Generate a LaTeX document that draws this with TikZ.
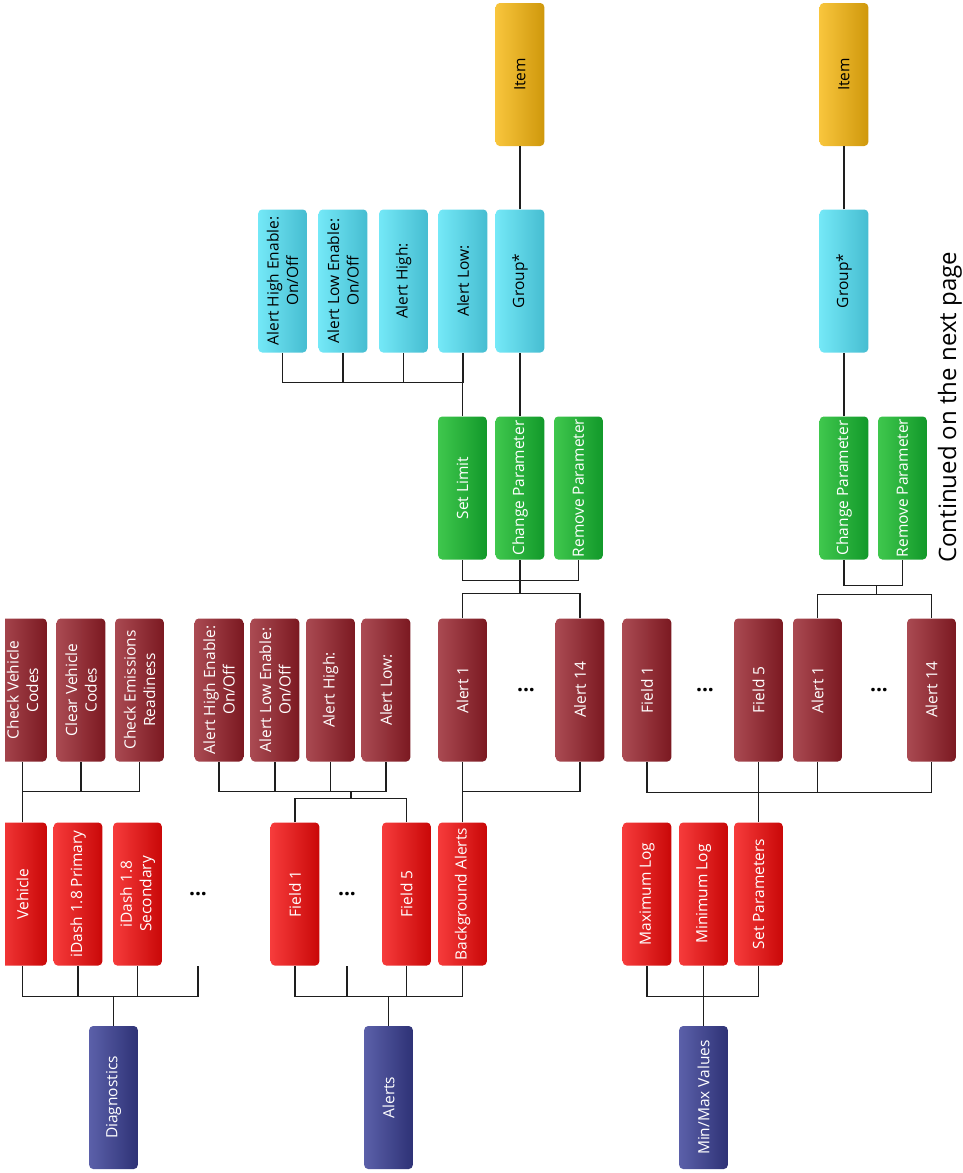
\documentclass[tikz,border=0pt]{standalone}
\usepackage{fontspec}
\setmainfont{Open Sans}
\usepackage{tikz}
\usetikzlibrary{calc}
\usetikzlibrary{shapes}

\definecolor{navylight}{HTML}{5B60A9}
\definecolor{navydark}{HTML}{2E3276}
\definecolor{redlight}{HTML}{F63B3B}
\definecolor{reddark}{HTML}{C90808}
\definecolor{winelight}{HTML}{AA4A52}
\definecolor{winedark}{HTML}{7B1921}
\definecolor{leaflight}{HTML}{3FC74D}
\definecolor{leafdark}{HTML}{12992A}
\definecolor{aqualight}{HTML}{74E8F7}
\definecolor{aquadark}{HTML}{46BDD1}
\definecolor{amberlight}{HTML}{F8C53C}
\definecolor{amberdark}{HTML}{CF980C}
\definecolor{wire}{HTML}{1E1E1E}

\tikzset{
  box/.style = {rectangle, rounded corners=4pt, rotate=90, minimum width=143pt, minimum height=48.6pt, inner sep=1pt, align=center, font=\fontsize{15.5}{19.5}\selectfont},
  navybox/.style = {box, left color=navylight, right color=navydark, text=white},
  redbox/.style = {box, left color=redlight, right color=reddark, text=white},
  winebox/.style = {box, left color=winelight, right color=winedark, text=white},
  leafbox/.style = {box, left color=leaflight, right color=leafdark, text=white},
  aquabox/.style = {box, left color=aqualight, right color=aquadark, text=black},
  amberbox/.style = {box, left color=amberlight, right color=amberdark, text=black},
  gap/.style = {rectangle, minimum width=48.6pt, minimum height=143pt, inner sep=0pt, font=\fontsize{21}{24}\selectfont\bfseries},
  link/.style = {draw=wire, line width=1.3pt}
}

\begin{document}
\begin{tikzpicture}[x=1pt, y=-1pt]
\useasboundingbox (0,0) rectangle (963,1173);
\clip (5,0) rectangle (963,1173);

% roots
\draw (113.5,1097.5) node[name = diag, navybox]{Diagnostics};
\draw (388.5,1097.5) node[name = alerts, navybox]{Alerts};
\draw (703.5,1097.5) node[name = minmax, navybox]{Min/Max Values};

% first level
\draw (22.5,894) node[name = veh, redbox]{Vehicle};
\draw (78,894) node[name = prim, redbox]{iDash 1.8 Primary};
\draw (137.5,894) node[name = sec, redbox]{iDash 1.8\\Secondary};
\draw (198,894) node[name = dotsA, gap]{...};
\draw (295,894) node[name = fldA, redbox]{Field 1};
\draw (347,894) node[name = dotsB, gap]{...};
\draw (406.5,894) node[name = fldB, redbox]{Field 5};
\draw (462.5,894) node[name = bga, redbox]{Background Alerts};
\draw (647,894) node[name = mxlog, redbox]{Maximum Log};
\draw (703.5,894) node[name = mnlog, redbox]{Minimum Log};
\draw (758.5,894) node[name = setp, redbox]{Set Parameters};

% second level
\draw (22.5,690) node[name = chk, winebox]{Check Vehicle\\Codes};
\draw (81,690) node[name = clr, winebox]{Clear Vehicle\\Codes};
\draw (139.5,690) node[name = emis, winebox]{Check Emissions\\Readiness};
\draw (219,690) node[name = ahe, winebox]{Alert High Enable:\\On/Off};
\draw (275,690) node[name = ale, winebox]{Alert Low Enable:\\On/Off};
\draw (330.5,690) node[name = ahi, winebox]{Alert High:};
\draw (386,690) node[name = alo, winebox]{Alert Low:};
\draw (462.5,690) node[name = alA, winebox]{Alert 1};
\draw (526,690) node[name = dotsC, gap]{...};
\draw (580,690) node[name = alB, winebox]{Alert 14};
\draw (647,690) node[name = fldC, winebox]{Field 1};
\draw (705,690) node[name = dotsD, gap]{...};
\draw (758.5,690) node[name = fldD, winebox]{Field 5};
\draw (817.5,690) node[name = alC, winebox]{Alert 1};
\draw (879,690) node[name = dotsE, gap]{...};
\draw (931.5,690) node[name = alD, winebox]{Alert 14};

% third level
\draw (462.5,488) node[name = lim, leafbox]{Set Limit};
\draw (520,488) node[name = chg, leafbox]{Change Parameter};
\draw (578.5,488) node[name = rem, leafbox]{Remove Parameter};
\draw (844,488) node[name = chgB, leafbox]{Change Parameter};
\draw (902.5,488) node[name = remB, leafbox]{Remove Parameter};

% fourth level
\draw (282.5,281) node[name = cahe, aquabox]{Alert High Enable:\\On/Off};
\draw (343,281) node[name = cale, aquabox]{Alert Low Enable:\\On/Off};
\draw (403.5,281) node[name = cahi, aquabox]{Alert High:};
\draw (463,281) node[name = calo, aquabox]{Alert Low:};
\draw (520,281) node[name = grp, aquabox]{Group*};
\draw (844,281) node[name = grpB, aquabox]{Group*};

% items
\draw (520,74.5) node[name = item, amberbox]{Item};
\draw (844,74.5) node[name = itemB, amberbox]{Item};

\draw (956,563) node[name = more, rotate=90, anchor=base west, inner sep=0pt, font=\fontsize{24}{28}\selectfont]{Continued on the next page};

% bus points
\coordinate (jdiag) at (113.5,996.7);
\coordinate (jalerts) at (388.5,996.7);
\coordinate (jminmax) at (703.5,996.8);
\coordinate (jveh) at (22.5,791.5);
\coordinate (jfld) at (351,798.5);
\coordinate (jcond) at (351,791.5);
\coordinate (jbga) at (462.5,791.7);
\coordinate (jsetp) at (758.5,792.6);
\coordinate (jal) at (520,593.5);
\coordinate (jop) at (520,580.5);
\coordinate (jalB) at (876.7,594.5);
\coordinate (jopB) at (876.7,585.5);
\coordinate (jlim) at (462.5,382.7);

\draw[link] (diag.east) -- (jdiag);
\draw[link] (jdiag) -| (veh.west);
\draw[link] (jdiag) -| (prim.west);
\draw[link] (jdiag) -| (sec.west);
\draw[link] (jdiag) -| (dotsA.south);

\draw[link] (alerts.east) -- (jalerts);
\draw[link] (jalerts) -| (fldA.west);
\draw[link] (jalerts) -| (dotsB.south);
\draw[link] (jalerts) -| (fldB.west);
\draw[link] (jalerts) -| (bga.west);

\draw[link] (minmax.east) -- (jminmax);
\draw[link] (jminmax) -| (mxlog.west);
\draw[link] (jminmax) -| (mnlog.west);
\draw[link] (jminmax) -| (setp.west);

\draw[link] (veh.east) -- (jveh);
\draw[link] (jveh) -| (chk.west);
\draw[link] (jveh) -| (clr.west);
\draw[link] (jveh) -| (emis.west);

\draw[link] (fldA.east) |- (jfld);
\draw[link] (fldB.east) |- (jfld);
\draw[link] (jfld) -- (jcond);
\draw[link] (jcond) -| (ahe.west);
\draw[link] (jcond) -| (ale.west);
\draw[link] (jcond) -| (ahi.west);
\draw[link] (jcond) -| (alo.west);

\draw[link] (bga.east) -- (jbga);
\draw[link] (jbga) -| (alA.west);
\draw[link] (jbga) -| (alB.west);

\draw[link] (setp.east) -- (jsetp);
\draw[link] (jsetp) -| (fldC.west);
\draw[link] (jsetp) -| (fldD.west);
\draw[link] (jsetp) -| (alC.west);
\draw[link] (jsetp) -| (alD.west);

\draw[link] (alA.east) |- (jal);
\draw[link] (alB.east) |- (jal);
\draw[link] (jal) -- (jop);
\draw[link] (jop) -| (lim.west);
\draw[link] (jop) -| (chg.west);
\draw[link] (jop) -| (rem.west);

\draw[link] (alC.east) |- (jalB);
\draw[link] (alD.east) |- (jalB);
\draw[link] (jalB) -- (jopB);
\draw[link] (jopB) -| (chgB.west);
\draw[link] (jopB) -| (remB.west);

\draw[link] (lim.east) -- (jlim);
\draw[link] (jlim) -| (cahe.west);
\draw[link] (jlim) -| (cale.west);
\draw[link] (jlim) -| (cahi.west);
\draw[link] (jlim) -| (calo.west);

\draw[link] (chg.east) -- (grp.west);
\draw[link] (grp.east) -- (item.west);
\draw[link] (chgB.east) -- (grpB.west);
\draw[link] (grpB.east) -- (itemB.west);

\end{tikzpicture}
\end{document}
